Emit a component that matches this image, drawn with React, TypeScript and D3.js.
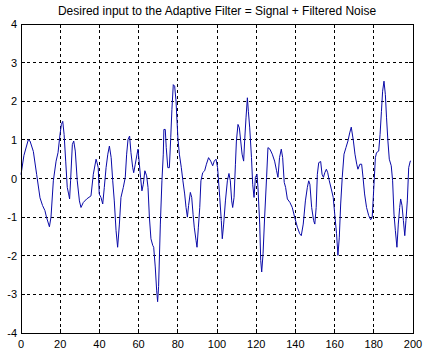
import React from "react";
import * as d3 from "d3";

const title = "Desired input to the Adaptive Filter = Signal + Filtered Noise";
const xTicks = [0, 20, 40, 60, 80, 100, 120, 140, 160, 180, 200];
const yTicks = [-4, -3, -2, -1, 0, 1, 2, 3, 4];

const sampleX = [
  0, 1.5, 3.7, 4.6, 6.3, 8, 9.7, 11, 12.2, 13, 14.5, 15.3, 16.5, 17.9, 18.9, 19.6, 20, 20.6, 21.3, 22, 22.8, 23.6, 24.3, 24.8, 25.3, 26.2, 26.9, 27.7, 28.7, 29.8, 30.6, 31.8, 33.5,
  35.7, 36.9, 38.3, 38.8, 39.4, 39.9, 40.8, 41.7, 42.5, 43.4, 44.3, 45.1, 46, 46.8, 47.6, 48.5, 49.3, 50.2, 51, 52.2, 53.2, 53.9, 54.6, 55.4, 56.1, 57, 57.5, 58.3, 59.2, 59.7, 60.4, 61, 61.7, 62.4, 63.2, 64.1, 64.8, 65.5, 66.3, 67.2,
  67.7, 68.5, 69.2, 69.7, 70.2, 71.1, 71.9, 72.6, 72.9, 73.6, 74.1, 74.9, 75.7, 76.4, 77, 77.7, 78.4, 79.1, 79.6, 80.1, 80.8, 81.8, 82.6, 83.5, 84.2, 84.9, 85.5, 86.4, 87.1, 87.8, 88.4, 89.3, 89.8, 90.5, 91.2, 91.8, 92.7, 93.7, 94.6, 95.7, 96.8, 97.8, 98.6, 99.5, 100.3,
  101.4, 102.2, 102.7, 103.4, 104.3, 105.3, 106.1, 106.8, 107.5, 108, 108.7, 109.4, 109.9, 110.7, 111.4, 112.1, 112.8, 113.6, 114.1, 114.8, 115.5, 116, 116.7, 117.6, 118.2, 118.9, 119.6, 120.4, 120.9, 121.8, 122.3, 122.8, 123.5, 124.3, 125.3, 126, 127, 128.2, 129.4, 130.4, 131.1, 131.9, 132.8, 133.5, 134.3,
  135, 135.9, 137.2, 138.4, 139.6, 141, 142.2, 143, 144, 145.1, 146.1, 146.8, 147.4, 148.3, 149.3, 149.9, 150.6, 151.2, 151.9, 152.9, 153.6, 154.3, 155, 155.8, 156.5, 157.3, 158.3, 159.3, 160.2, 161, 161.7, 162.4, 163.1, 163.9, 164.8, 165.8, 166.8, 167.7,
  168.5, 169.6, 170.4, 171.3, 171.9, 172.9, 173.8, 174.5, 175.3, 176.3, 177.4, 178.4, 179.2, 180.1, 180.8, 181.4, 182.5, 183.2, 183.9, 184.5, 185.2, 185.9, 186.5, 187.2, 187.9, 188.9, 189.6, 190.3, 191, 191.8, 192.5, 193.2, 193.7, 194.4, 195.1, 195.8, 196.4, 197.1, 197.8, 198.6, 199,
];
const sampleY = [
  0.1, 0.6, 1.0, 0.97, 0.7, 0.1, -0.5, -0.7, -0.83, -1.0, -1.25, -1.0, -0.06, 0.45, 0.67, 1.0, 1.18, 1.4, 1.48, 1.14, 0.45, -0.23, -0.4, -0.53, -0.06, 0.88, 0.97, 0.71, -0.06, -0.58, -0.75, -0.62, -0.53,
  -0.45, 0.11, 0.5, 0.41, 0.28, -0.4, -0.49, -0.66, -0.23, 0.28, 0.63, 0.84, 0.54, -0.06, -0.58, -1.35, -1.78, -1.18, -0.49, -0.23, 0.03, 0.63, 1.01, 1.1, 0.67, 0.28, 0.15, 0.37, 0.63, 0.76, 0.37, 0.03, -0.32, -0.15, 0.2, 0.07, -0.23, -1.0, -1.56, -1.73,
  -1.78, -2.29, -2.89, -3.19, -2.8, -1.18, -0.06, 0.63, 1.27, 1.27, 0.8, 0.28, 0.28, 1.06, 1.79, 2.43, 2.39, 2.0, 1.48, 1.01, 0.63, 0.28, -0.06, -0.4, -0.75, -1.0, -0.7, -0.36, -0.49, -0.93, -1.26, -1.6, -1.78, -1.26, -0.75, -0.06, 0.15, 0.2, 0.37, 0.54, 0.45, 0.33, 0.45, 0.5, 0.28,
  -0.49, -1.09, -1.56, -1.18, -0.58, -0.06, 0.13, -0.06, -0.58, -0.75, -0.49, 0.37, 0.97, 1.4, 1.31, 0.97, 0.63, 0.45, 0.97, 1.57, 2.09, 1.74, 1.31, 0.54, -0.15, -0.49, 0.03, 0.11, -0.23, -1.18, -2.12, -2.42, -1.95, -1.0, 0.03, 0.8, 0.76, 0.63, 0.45, 0.2, 0.03, 0.54, 0.76, 0.54, -0.1,
  -0.23, -0.53, -0.62, -0.75, -1.0, -1.26, -1.43, -1.48, -1.18, -0.58, -0.23, -0.06, -0.15, -0.75, -1.09, -1.18, -0.75, 0.11, 0.41, 0.44, 0.11, 0.03, 0.15, 0.24, 0.15, -0.06, -0.27, -0.49, -1.0, -1.43, -1.99, -1.52, -0.66, 0.03, 0.63, 0.8, 0.97, 1.18,
  1.33, 0.97, 0.63, 0.37, 0.24, 0.37, 0.37, 0.03, -0.4, -0.75, -0.96, -1.07, -1.0, -0.15, 0.54, 0.67, 0.71, 1.14, 1.74, 2.26, 2.52, 2.17, 1.57, 0.97, 0.5, 0.33, -0.06, -0.92, -1.35, -1.78, -1.18, -0.75, -0.53, -0.7, -1.09, -1.48, -1.09, -0.58, 0.28, 0.45, 0.45,
];

const W = 431;
const H = 357;
const L = 21, R = 413, T = 24, B = 333;
const FONT = "'Liberation Sans', Arial, sans-serif";

export default function App() {
  const x = d3.scaleLinear().domain([0, 200]).range([L, R]);
  const y = d3.scaleLinear().domain([-4, 4]).range([B, T]);
  const pts: [number, number][] = sampleX.map((v, i) => [v, sampleY[i]]);
  const line = d3.line<[number, number]>().x((d) => x(d[0])).y((d) => y(d[1]));
  const tick = 4;
  return (
    <svg width={W} height={H} style={{ position: "fixed", left: 0, top: 0, background: "#fff" }} fontFamily={FONT}>
      <rect x={0} y={0} width={W} height={H} fill="#fff" />
      {xTicks.slice(1, -1).map((t) => (
        <line key={"gx" + t} x1={x(t)} x2={x(t)} y1={T} y2={B} stroke="#000" strokeWidth={1} strokeDasharray="3,3" shapeRendering="crispEdges" />
      ))}
      {yTicks.slice(1, -1).map((t) => (
        <line key={"gy" + t} x1={L} x2={R} y1={y(t)} y2={y(t)} stroke="#000" strokeWidth={1} strokeDasharray="3,3" shapeRendering="crispEdges" />
      ))}
      <path d={line(pts) || ""} fill="none" stroke="#0a0aa8" strokeWidth={1} />
      <rect x={L} y={T} width={R - L} height={B - T} fill="none" stroke="#000" strokeWidth={1} shapeRendering="crispEdges" />
      {xTicks.map((t) => (
        <g key={"tx" + t}>
          <line x1={x(t)} x2={x(t)} y1={B} y2={B - tick} stroke="#000" shapeRendering="crispEdges" />
          <line x1={x(t)} x2={x(t)} y1={T} y2={T + tick} stroke="#000" shapeRendering="crispEdges" />
          <text x={x(t)} y={348} fontSize={11} textAnchor="middle" fill="#000">{t}</text>
        </g>
      ))}
      {yTicks.map((t) => (
        <g key={"ty" + t}>
          <line x1={L} x2={L + tick} y1={y(t)} y2={y(t)} stroke="#000" shapeRendering="crispEdges" />
          <line x1={R} x2={R - tick} y1={y(t)} y2={y(t)} stroke="#000" shapeRendering="crispEdges" />
          <text x={L - 4} y={y(t) + 4} fontSize={11} textAnchor="end" fill="#000">{t}</text>
        </g>
      ))}
      <text x={(L + R) / 2} y={15} fontSize={12} textAnchor="middle" fill="#000">{title}</text>
    </svg>
  );
}
